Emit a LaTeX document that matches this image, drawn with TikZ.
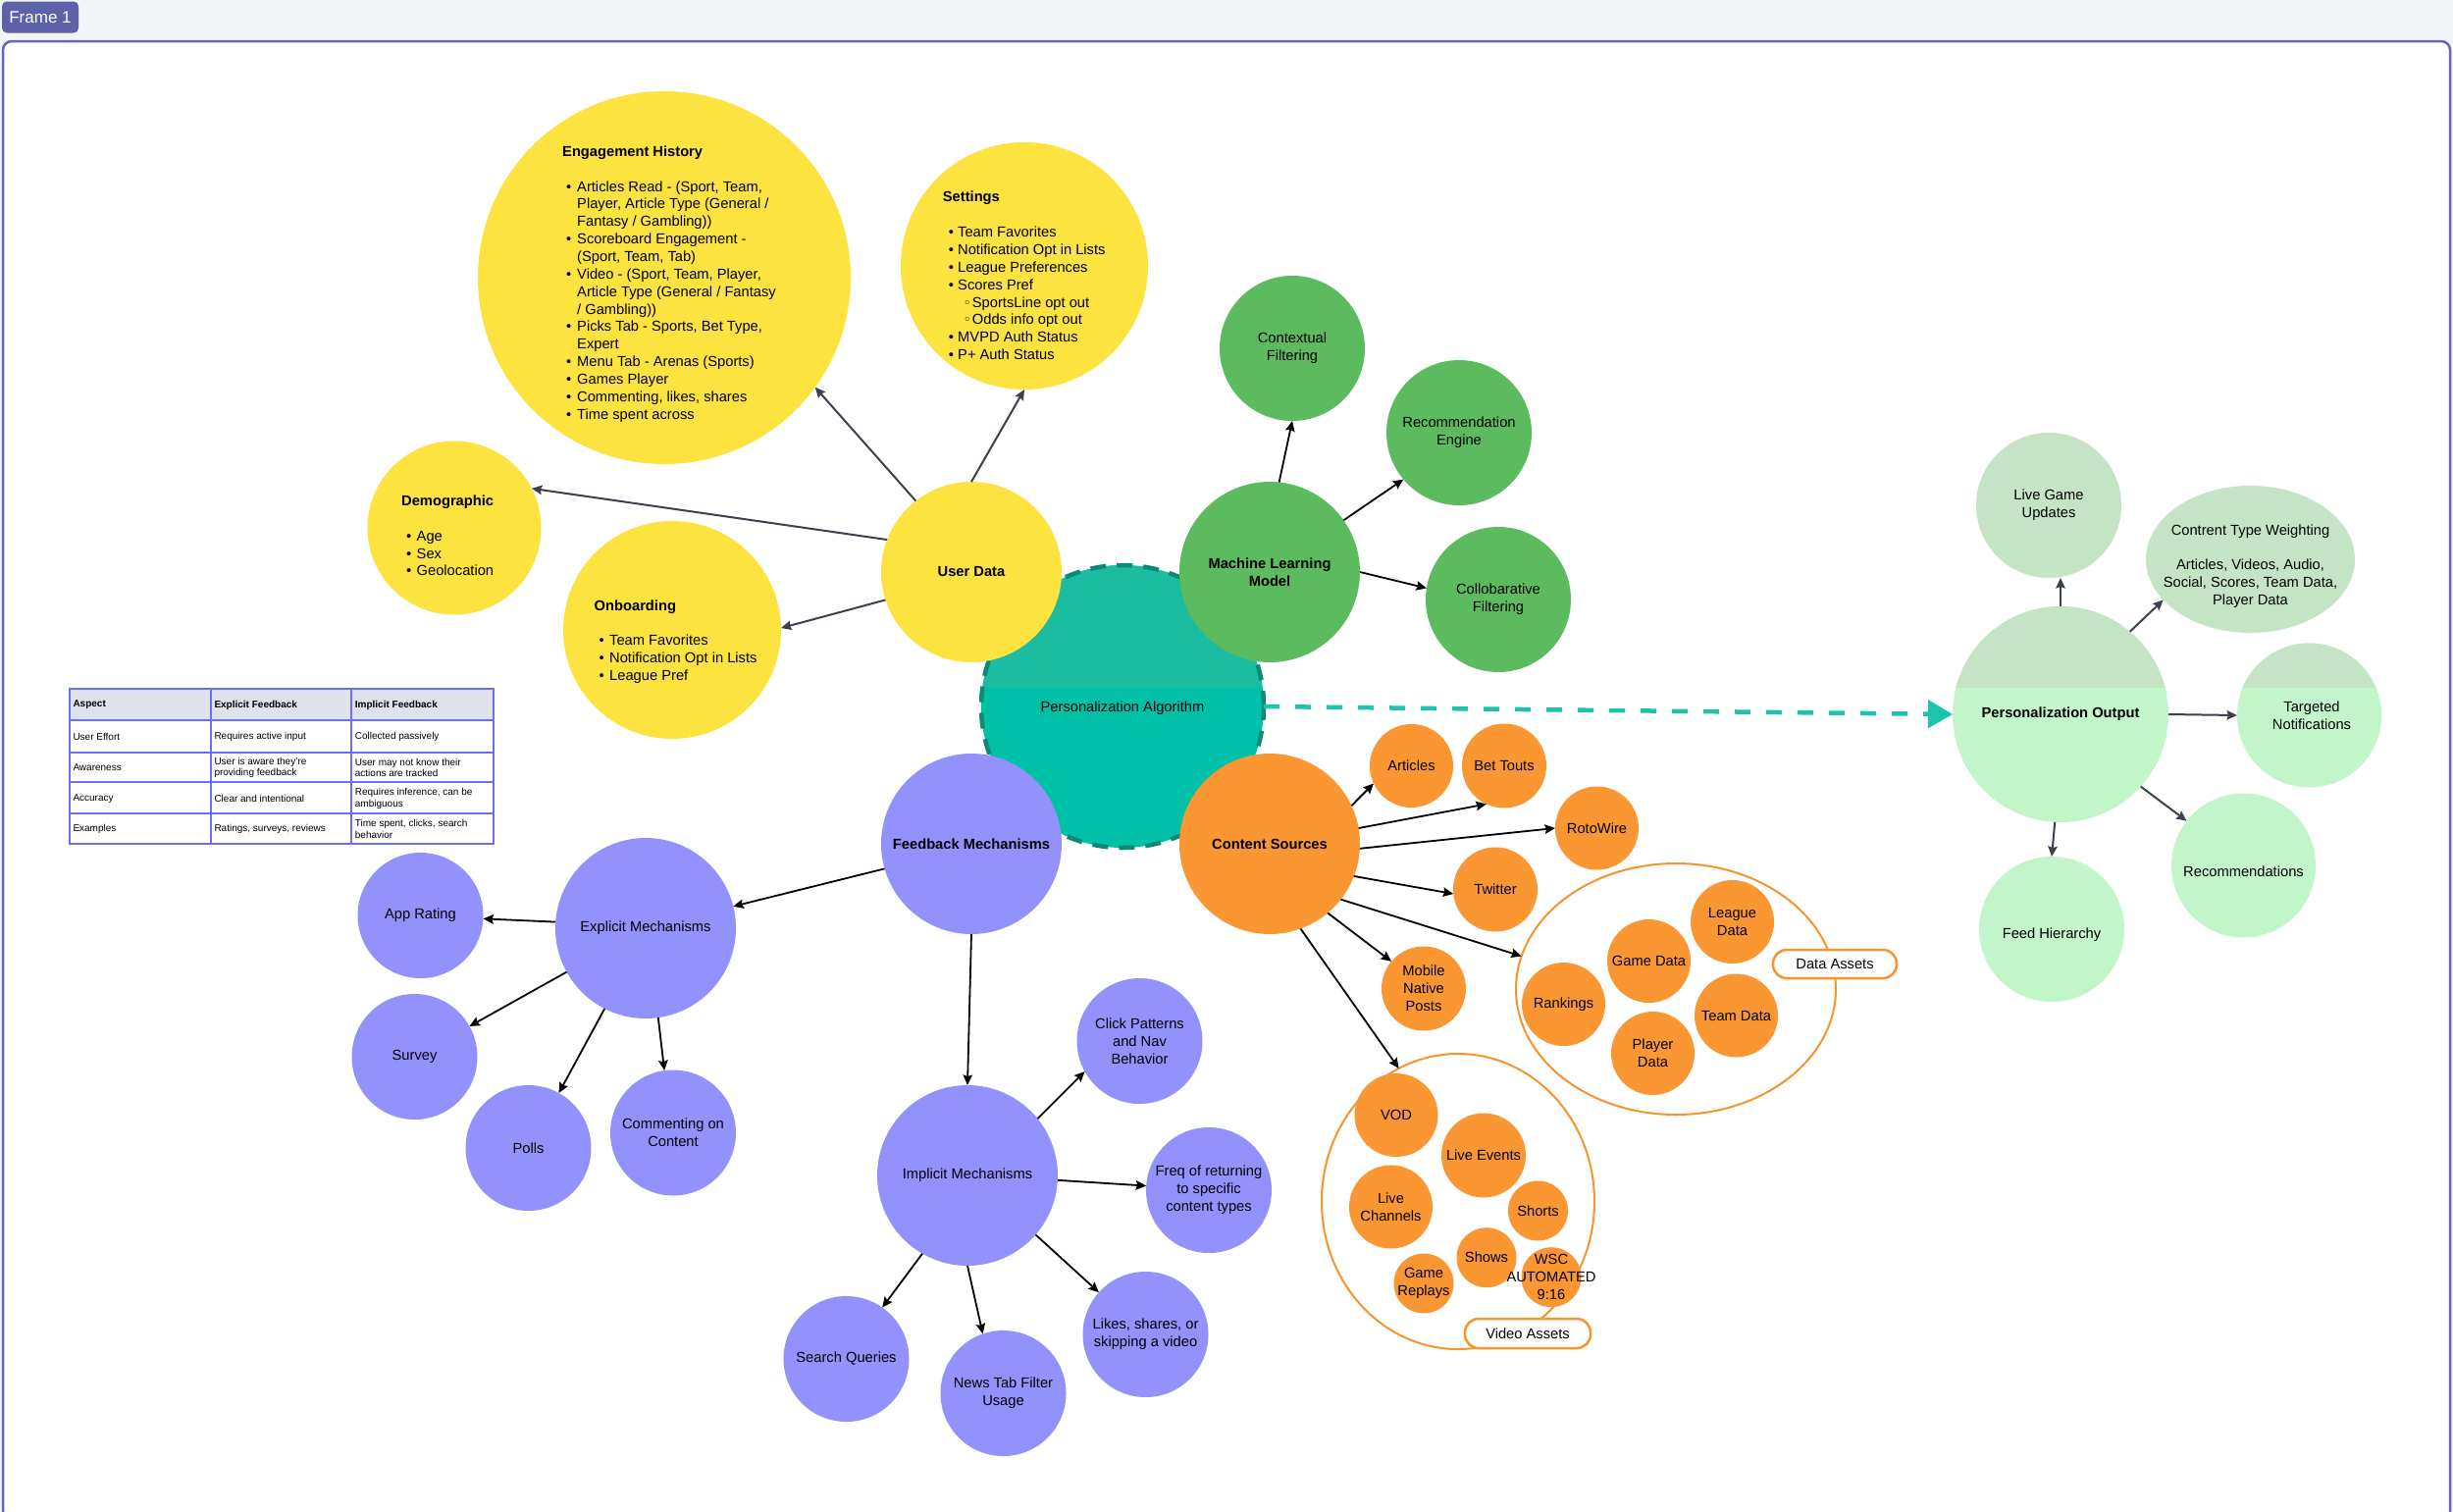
\documentclass[tikz,border=0pt]{standalone}
\usepackage{fontspec}
\setmainfont{Liberation Sans}
\newfontfamily\dejavu{DejaVu Sans}
\usetikzlibrary{arrows.meta,shapes.geometric}
\newcommand\mainfs{\fontsize{14.7}{17.85}\selectfont}
\newcommand\bulA[2]{\hspace*{#1}\makebox[#2][l]{\textbullet}}
\newcommand\subbul[2]{\hspace*{#1}\makebox[#2][l]{{\dejavu\fontsize{13.5}{13.5}\selectfont ◦}}}
\newcommand\mkbubble[5]{\node[bub,fill=#4,minimum size=#3pt] (#1) at (#2) {};\node[lbl] (#1t) at (#1.center) {#5};}
\definecolor{yel}{HTML}{FCE340}
\definecolor{grn}{HTML}{5DBB5F}
\definecolor{pur}{HTML}{9391FC}
\definecolor{org}{HTML}{FA9733}
\definecolor{lgtop}{HTML}{C5E3C5}
\definecolor{lgbot}{HTML}{C2F5C9}
\definecolor{tealtop}{HTML}{1BBC9F}
\definecolor{tealbot}{HTML}{00C1A7}
\definecolor{tealdash}{HTML}{0E8A74}
\definecolor{tealarrow}{HTML}{1CC4AA}
\definecolor{gryarrow}{HTML}{3B414D}
\definecolor{tblline}{HTML}{6D6DFF}
\definecolor{tblhead}{HTML}{DFE2E8}
\definecolor{framebg}{HTML}{F3F4F8}
\definecolor{frameline}{HTML}{6467B8}
\definecolor{tabfill}{HTML}{5D61A9}
\definecolor{orgline}{HTML}{F7942E}
\tikzset{
  bub/.style={circle, inner sep=0pt, outer sep=0pt, draw=none},
  lbl/.style={align=center, inner sep=0pt, font=\mainfs, text=black},
  tcell/.style={anchor=west, align=left, inner sep=0pt, font=\fontsize{10}{11.7}\selectfont},
  arrblk/.style={-{Stealth[length=10.5pt,width=9.5pt,inset=1.5pt]}, line width=1.8pt, black},
  arrgry/.style={-{Stealth[length=10.5pt,width=9.5pt,inset=1.5pt]}, line width=2pt, gryarrow},
  pill/.style={draw=orgline, line width=2.5pt, fill=white, rounded corners=14pt, inner sep=0pt, font=\mainfs},
  ring/.style={ellipse, draw=orgline, line width=2pt, inner sep=0pt, outer sep=0pt}
}
\begin{document}
\begin{tikzpicture}[x=1pt,y=-1pt]
\useasboundingbox (0,0) rectangle (2500,1540);
\fill[framebg] (0,0) rectangle (2500,1540);
\draw[frameline, line width=2.5pt, fill=white, rounded corners=9pt] (3,42) rectangle (2497,1600);
\node[fill=tabfill, rounded corners=5pt, text=white, minimum width=78pt, minimum height=32pt, inner sep=0pt, font=\fontsize{17}{20}\selectfont] (tab) at (41,17.5) {Frame 1};
% table
\fill[tblhead] (71,701.7) rectangle (502.7,734);
\draw[tblline, line width=2pt] (71,701.7) rectangle (502.7,860);
\foreach \yy in {734,766.7,797.3,829.3} \draw[tblline, line width=2pt] (71,\yy) -- (502.7,\yy);
\foreach \xx in {215,358.3} \draw[tblline, line width=2pt] (\xx,701.7) -- (\xx,860);
\node[tcell] (c11) at (74.3,718.5) {\textbf{Aspect}};
\node[tcell] (c12) at (218.3,718.5) {\textbf{Explicit Feedback}};
\node[tcell] (c13) at (361.7,718.5) {\textbf{Implicit Feedback}};
\node[tcell] (c21) at (74.3,750.8) {User Effort};
\node[tcell] (c22) at (218.3,750.8) {Requires active input};
\node[tcell] (c23) at (361.7,750.8) {Collected passively};
\node[tcell] (c31) at (74.3,782.3) {Awareness};
\node[tcell] (c32) at (218.3,782.3) {User is aware they're\\providing feedback};
\node[tcell] (c33) at (361.7,782.3) {User may not know their\\actions are tracked};
\node[tcell] (c41) at (74.3,813.8) {Accuracy};
\node[tcell] (c42) at (218.3,813.8) {Clear and intentional};
\node[tcell] (c43) at (361.7,813.8) {Requires inference, can be\\ambiguous};
\node[tcell] (c51) at (74.3,845) {Examples};
\node[tcell] (c52) at (218.3,845) {Ratings, surveys, reviews};
\node[tcell] (c53) at (361.7,845) {Time spent, clicks, search\\behavior};
% algorithm
\node[bub, fill=tealbot, minimum size=288pt] (alg) at (1144,720) {};
\begin{scope}
\clip (990,560) rectangle (1300,700);
\fill[tealtop] (alg.center) circle[radius=144pt];
\end{scope}
\draw[tealdash, line width=4.5pt, dash pattern=on 16pt off 11pt] (alg.center) circle[radius=144pt];
\node[lbl] (algt) at (1144,722) {Personalization Algorithm};
% yellow
\mkbubble{eh}{677,283}{380}{yel}{}
\node[lbl, align=left, anchor=west] (ehl) at (573,289.5) {\textbf{Engagement History}\\[17.85pt]
\bulA{4pt}{11pt}Articles Read - (Sport, Team,\\
\hspace*{15pt}Player, Article Type (General /\\
\hspace*{15pt}Fantasy / Gambling))\\
\bulA{4pt}{11pt}Scoreboard Engagement -\\
\hspace*{15pt}(Sport, Team, Tab)\\
\bulA{4pt}{11pt}Video - (Sport, Team, Player,\\
\hspace*{15pt}Article Type (General / Fantasy\\
\hspace*{15pt}/ Gambling))\\
\bulA{4pt}{11pt}Picks Tab - Sports, Bet Type,\\
\hspace*{15pt}Expert\\
\bulA{4pt}{11pt}Menu Tab - Arenas (Sports)\\
\bulA{4pt}{11pt}Games Player\\
\bulA{4pt}{11pt}Commenting, likes, shares\\
\bulA{4pt}{11pt}Time spent across};
\mkbubble{st}{1044,271}{252}{yel}{}
\node[lbl, align=left, anchor=west] (stl) at (960.7,281) {\textbf{Settings}\\[17.85pt]
\bulA{6pt}{9.3pt}Team Favorites\\
\bulA{6pt}{9.3pt}Notification Opt in Lists\\
\bulA{6pt}{9.3pt}League Preferences\\
\bulA{6pt}{9.3pt}Scores Pref\\
\subbul{21pt}{9pt}SportsLine opt out\\
\subbul{21pt}{9pt}Odds info opt out\\
\bulA{6pt}{9.3pt}MVPD Auth Status\\
\bulA{6pt}{9.3pt}P+ Auth Status};
\mkbubble{dm}{463,538}{177}{yel}{}
\node[lbl, align=left, anchor=west] (dml) at (409,546) {\textbf{Demographic}\\[17.85pt]
\bulA{5pt}{10.5pt}Age\\
\bulA{5pt}{10.5pt}Sex\\
\bulA{5pt}{10.5pt}Geolocation};
\mkbubble{ob}{685,642}{222}{yel}{}
\node[lbl, align=left, anchor=west] (obl) at (605.5,654) {\textbf{Onboarding}\\[17.85pt]
\bulA{5pt}{10.5pt}Team Favorites\\
\bulA{5pt}{10.5pt}Notification Opt in Lists\\
\bulA{5pt}{10.5pt}League Pref};
\mkbubble{ud}{990,583}{184}{yel}{\textbf{User Data}}
% green
\mkbubble{ml}{1294,583}{184}{grn}{\textbf{Machine Learning}\\\textbf{Model}}
\mkbubble{cf}{1317,355}{148}{grn}{Contextual\\Filtering}
\mkbubble{re}{1487,441}{148}{grn}{Recommendation\\Engine}
\mkbubble{co}{1527,611}{148}{grn}{Collobarative\\Filtering}
% purple
\mkbubble{fm}{990,860}{184}{pur}{\textbf{Feedback Mechanisms}}
\mkbubble{em}{658,946}{184}{pur}{Explicit Mechanisms}
\mkbubble{ar}{428.5,933}{128}{pur}{App Rating}
\mkbubble{sv}{422.5,1077}{128}{pur}{Survey}
\mkbubble{pl}{538.5,1170}{128}{pur}{Polls}
\mkbubble{cc}{686,1154.5}{128}{pur}{Commenting on\\Content}
\mkbubble{im}{986,1198}{184}{pur}{Implicit Mechanisms}
\mkbubble{cp}{1161.5,1061}{128}{pur}{Click Patterns\\and Nav\\Behavior}
\mkbubble{fr}{1232,1213}{128}{pur}{Freq of returning\\to specific\\content types}
\mkbubble{lk}{1167.5,1360}{128}{pur}{Likes, shares, or\\skipping a video}
\mkbubble{sq}{862.5,1385}{128}{pur}{Search Queries}
\mkbubble{nt}{1022.5,1420}{128}{pur}{News Tab Filter\\Usage}
% orange
\mkbubble{cs}{1294,860}{184}{org}{\textbf{Content Sources}}
\mkbubble{at}{1438.5,780.5}{85}{org}{Articles}
\mkbubble{bt}{1533,780.5}{86}{org}{Bet Touts}
\mkbubble{rw}{1627.5,844}{85}{org}{RotoWire}
\mkbubble{tw}{1524,906.5}{86}{org}{Twitter}
\mkbubble{mn}{1451,1007.5}{86}{org}{Mobile\\Native\\Posts}
\node[ring, minimum width=326pt, minimum height=256pt] (da) at (1708,1008) {};
\mkbubble{rk}{1593.5,1023.5}{85}{org}{Rankings}
\mkbubble{gd}{1680.5,979.5}{85}{org}{Game Data}
\mkbubble{ld}{1765.5,939.5}{85}{org}{League\\Data}
\mkbubble{td}{1769.5,1035}{85}{org}{Team Data}
\mkbubble{pd}{1684.5,1073.5}{85}{org}{Player\\Data}
\node[pill, minimum width=126pt, minimum height=29pt] (dal) at (1870,982.5) {Data Assets};
\node[ring, minimum width=278pt, minimum height=301pt] (va) at (1486,1224.5) {};
\mkbubble{vod}{1423,1136.5}{85}{org}{VOD}
\mkbubble{le}{1512,1177.5}{86}{org}{Live Events}
\mkbubble{lc}{1417.5,1230}{85}{org}{Live\\Channels}
\mkbubble{sh}{1567.5,1234}{61}{org}{Shorts}
\mkbubble{sw}{1515,1281.7}{61}{org}{Shows}
\mkbubble{ws}{1581,1301.7}{61}{org}{WSC\\AUTOMATED\\9:16}
\mkbubble{gr}{1451,1308}{61}{org}{Game\\Replays}
\node[pill, minimum width=128pt, minimum height=30pt] (val) at (1557,1359) {Video Assets};
% light green output
\node[bub, fill=lgbot, minimum size=220pt] (po) at (2100,728) {};
\node[bub, fill=lgbot, minimum size=147pt] (tn) at (2353.5,729) {};
\begin{scope}
\clip (1980,600) rectangle (2440,700);
\fill[lgtop] (po.center) circle[radius=110pt];
\fill[lgtop] (tn.center) circle[radius=73.5pt];
\end{scope}
\node[lbl] (pot) at (po.center) {\textbf{Personalization Output}};
\node[lbl] (tnt) at (2356,729) {Targeted\\Notifications};
\mkbubble{lg}{2088,515}{148}{lgtop}{Live Game\\Updates}
\node[ellipse, fill=lgtop, minimum width=213pt, minimum height=150pt, inner sep=0pt, outer sep=0pt] (ct) at (2293.5,570) {};
\node[lbl] (ctt) at (2293.5,577) {Contrent Type Weighting\\[17.85pt]Articles, Videos, Audio,\\Social, Scores, Team Data,\\Player Data};
\node[bub, fill=lgbot, minimum size=147pt] (rc) at (2286.5,882) {};
\node[lbl] (rct) at (2286.5,888) {Recommendations};
\node[bub, fill=lgbot, minimum size=148pt] (fh) at (2091,947) {};
\node[lbl] (fht) at (2091,953) {Feed Hierarchy};
% teal dashed arrow
\draw[tealarrow, line width=4.5pt, dash pattern=on 16pt off 16pt, -{Triangle[length=25pt,width=28pt]}] (alg.east) -- (po.west);
% user data arrows
\draw[arrgry] (ud.128.8) -- (eh.-36.3);
\draw[arrgry] (ud.90) -- (st.-90);
\draw[arrgry] (ud.159) -- (dm.27.5);
\draw[arrgry] (ud.-162) -- (ob.1);
% ML arrows
\draw[arrblk] (ml.84.4) -- (cf.-90);
\draw[arrblk] (ml.35.5) -- (re.-140);
\draw[arrblk] (ml.0) -- (co.171.4);
% content sources arrows
\draw[arrblk] (cs.25.2) -- (at.205);
\draw[arrblk] (cs.10.7) -- (bt.-115.3);
\draw[arrblk] (cs.-3) -- (rw.180);
\draw[arrblk] (cs.-21) -- (tw.-174.6);
\draw[arrblk] (cs.-38) -- (da.168.3);
\draw[arrblk] (cs.-50.6) -- (mn.140);
\draw[arrblk] (cs.-70) -- (va.114.5);
% feedback arrows
\draw[arrblk] (fm.-164.6) -- (em.14.3);
\draw[arrblk] (fm.south) -- (im.north);
\draw[arrblk] (em.176.9) -- (ar.-3.3);
\draw[arrblk] (em.209.6) -- (sv.29);
\draw[arrblk] (em.-117.6) -- (pl.61.7);
\draw[arrblk] (em.-82.6) -- (cc.98.3);
\draw[arrblk] (im.39.8) -- (cp.-151.7);
\draw[arrblk] (im.-3.3) -- (fr.176.4);
\draw[arrblk] (im.-41.8) -- (lk.138);
\draw[arrblk] (im.-120.9) -- (sq.55.6);
\draw[arrblk] (im.-90) -- (nt.109.5);
% output arrows
\draw[arrgry] (po.north) -- (po.north |- lg.south);
\draw[arrgry] (po.50.6) -- (ct.-155.6);
\draw[arrgry] (po.east) -- (tn.west);
\draw[arrgry] (po.-42.6) -- (rc.142);
\draw[arrgry] (po.-93) -- (fh.north);
\end{tikzpicture}
\end{document}
